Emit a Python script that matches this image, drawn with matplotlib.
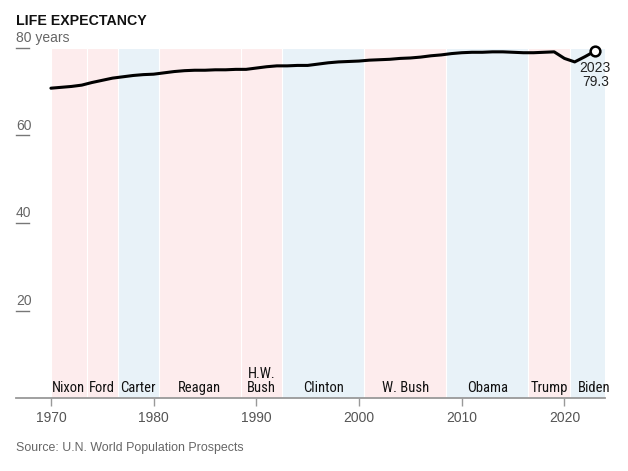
import matplotlib
matplotlib.use("Agg")
import matplotlib.pyplot as plt
from matplotlib import font_manager

# ---------------- data ----------------
years = list(range(1970, 2024))
life_exp = [70.8, 71.0, 71.2, 71.5, 72.1, 72.6, 73.1, 73.4, 73.7, 73.9,
            74.0, 74.3, 74.6, 74.8, 74.9, 74.9, 75.0, 75.0, 75.1, 75.1,
            75.4, 75.7, 75.9, 75.9, 76.0, 76.0, 76.3, 76.6, 76.8, 76.9,
            77.0, 77.2, 77.3, 77.4, 77.6, 77.7, 77.9, 78.2, 78.4, 78.7,
            78.9, 79.0, 79.0, 79.1, 79.1, 79.0, 78.9, 78.9, 79.0, 79.1,
            77.6, 76.8, 78.0, 79.3]

presidents = ['Nixon', 'Ford', 'Carter', 'Reagan', 'H.W.\nBush', 'Clinton',
              'W. Bush', 'Obama', 'Trump', 'Biden']
term_start = [1970, 1973.5, 1976.5, 1980.5, 1988.5, 1992.5, 2000.5, 2008.5,
              2016.5, 2020.5]
term_end = term_start[1:] + [2025.2]
party = ['R', 'R', 'D', 'R', 'R', 'D', 'R', 'D', 'R', 'D']

y_ticks = [20, 40, 60, 80]
y_tick_labels = ['20', '40', '60', '80 years']
x_ticks = [1970, 1980, 1990, 2000, 2010, 2020]

title = 'LIFE EXPECTANCY'
source = 'Source: U.N. World Population Prospects'

# ---------------- style ----------------
def pick(names):
    avail = {f.name for f in font_manager.fontManager.ttflist}
    for n in names:
        if n in avail:
            return n
    return 'DejaVu Sans'

narrow = pick(['Liberation Sans Narrow', 'Roboto Condensed', 'Liberation Sans'])
base = pick(['Liberation Sans', 'DejaVu Sans'])
plt.rcParams['font.family'] = [base, 'DejaVu Sans']

colors = {'R': '#fdeced', 'D': '#e8f2f8'}

W, H = 628, 471
fig = plt.figure(figsize=(W / 100, H / 100), dpi=100)
ax_left, ax_right, ax_bottom, ax_top = 16, 605, 398.3, 47.9
ax = fig.add_axes([ax_left / W, 1 - ax_bottom / H,
                   (ax_right - ax_left) / W, (ax_bottom - ax_top) / H])
ax.set_xlim(1966.6, 2023.95)
ax.set_ylim(0, 80)

# president shading
for name, s, e, p in zip(presidents, term_start, term_end, party):
    ax.axvspan(s, e, ymin=0, ymax=1, facecolor=colors[p], edgecolor='white',
               linewidth=0.8, zorder=0)
    ax.text((s + e) / 2, 1.4, name, ha='center', va='baseline',
            fontsize=10.5, family=[narrow, 'DejaVu Sans'], color='#111111',
            linespacing=1.0, zorder=3)

# line
ax.plot(years, life_exp, color='black', lw=2.2, solid_capstyle='round',
        solid_joinstyle='round', zorder=4)
ax.plot([years[-1]], [life_exp[-1]], marker='o', ms=7, mfc='white',
        mec='black', mew=1.8, zorder=5, clip_on=False)
ax.annotate(f'{years[-1]}\n{life_exp[-1]}', xy=(years[-1], life_exp[-1]),
            xytext=(0, -7.5), textcoords='offset points', ha='center',
            va='top', fontsize=10, color='#222222', linespacing=1.0, zorder=5)

# y "ticks"
ytr = ax.get_yaxis_transform()
for v, lab in zip(y_ticks, y_tick_labels):
    ax.plot([0, 13 / (ax_right - ax_left)], [v, v], transform=ytr,
            color='#777777', lw=1.0, clip_on=False, zorder=3)
    ax.text(0, v + 1.3, lab, transform=ytr, ha='left', va='baseline',
            fontsize=10, color='#666666', clip_on=False)

# axes styling
for s in ['top', 'right', 'left']:
    ax.spines[s].set_visible(False)
ax.spines['bottom'].set_color('#999999')
ax.spines['bottom'].set_linewidth(1.3)
ax.set_yticks([])
ax.set_xticks(x_ticks)
ax.set_xticklabels([str(x) for x in x_ticks])
ax.tick_params(axis='x', direction='out', length=6, width=1, color='#999999',
               labelsize=10, labelcolor='#555555', pad=3)

fig.text(ax_left / W, 1 - 25 / H, title, fontsize=10.2, fontweight='bold',
         color='#111111', ha='left', va='baseline')
fig.text(ax_left / W, 1 - 451.5 / H, source, fontsize=8.9, color='#666666',
         ha='left', va='baseline')

fig.savefig('out.png', dpi=100)
